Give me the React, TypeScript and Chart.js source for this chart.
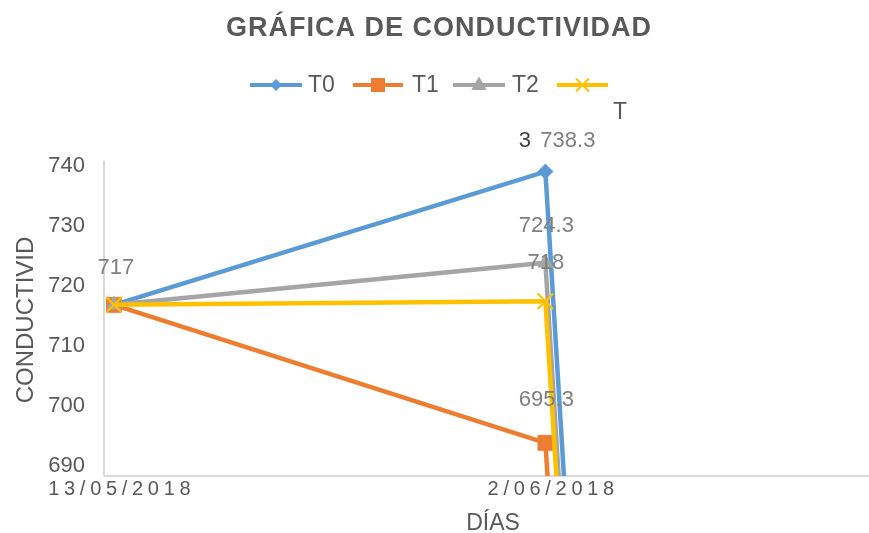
import React, { useEffect, useRef } from "react";
import { Chart, registerables } from "chart.js";

Chart.register(...registerables);

// ---- data ----
const days = [0, 20, 32.5];
const xTickDays = [0, 20];
const xTickLabels = ["13/05/2018", "2/06/2018"];
const yTicks = [690, 700, 710, 720, 730, 740];
const seriesNames = ["T0", "T1", "T2", "T"];
const t0Values = [716.2, 738.4, 0];
const t1Values = [716.2, 693.2, 0];
const t2Values = [716.2, 723.2, 0];
const t3Values = [716.2, 716.8, 0];
const t0Labels = ["", "738.3", ""];
const t1Labels = ["", "695.3", ""];
const t2Labels = ["717", "724.3", ""];
const t3Labels = ["", "718", ""];
const strayLabel = "3";
const titleText = "GRÁFICA DE CONDUCTIVIDAD";
const xTitleText = "DÍAS";
const yTitleText = "CONDUCTIVID";

// ---- styles ----
const FONT = '"Liberation Sans", Arial, sans-serif';
const TEXT = "#595959";
const LABEL = "#7f7f7f";
const AXIS = "#d9d9d9";
const colors = ["#5B9BD5", "#ED7D31", "#A5A5A5", "#FFC000"];
const pointStyles = ["rectRot", "rect", "triangle", "crossRot"];
const pointRadii = [7.5, 10.5, 8.5, 11];
const labelOffsets: Record<string, { dx: number; dy: number }> = {
  "2-0": { dx: 2, dy: -31 },
  "0-1": { dx: 22.5, dy: -24.7 },
  "1-1": { dx: 1, dy: -36.5 },
  "2-1": { dx: 1, dy: -31 },
  "3-1": { dx: 0.5, dy: -32 },
};

function drawMarker(ctx: CanvasRenderingContext2D, style: string, x: number, y: number, r: number, color: string) {
  ctx.save();
  ctx.fillStyle = color;
  ctx.strokeStyle = color;
  ctx.beginPath();
  if (style === "rectRot") {
    ctx.moveTo(x - r, y);
    ctx.lineTo(x, y - r);
    ctx.lineTo(x + r, y);
    ctx.lineTo(x, y + r);
    ctx.closePath();
    ctx.fill();
  } else if (style === "rect") {
    ctx.rect(x - r, y - r, 2 * r, 2 * r);
    ctx.fill();
  } else if (style === "triangle") {
    ctx.moveTo(x, y - r);
    ctx.lineTo(x + r * 0.9, y + r * 0.6);
    ctx.lineTo(x - r * 0.9, y + r * 0.6);
    ctx.closePath();
    ctx.fill();
  } else {
    ctx.lineWidth = 2;
    ctx.moveTo(x - r, y - r);
    ctx.lineTo(x + r, y + r);
    ctx.moveTo(x + r, y - r);
    ctx.lineTo(x - r, y + r);
    ctx.stroke();
  }
  ctx.restore();
}

const decorPlugin = {
  id: "decor",
  beforeDatasetsDraw(chart: any) {
    const { ctx, chartArea } = chart;
    ctx.save();
    ctx.strokeStyle = AXIS;
    ctx.lineWidth = 2;
    ctx.beginPath();
    ctx.moveTo(chartArea.left, chartArea.top);
    ctx.lineTo(chartArea.left, chartArea.bottom);
    ctx.moveTo(chartArea.left, chartArea.bottom);
    ctx.lineTo(chartArea.right, chartArea.bottom);
    ctx.stroke();
    ctx.restore();
  },
  afterDraw(chart: any) {
    const { ctx } = chart;
    const xs = chart.scales.x;
    const ys = chart.scales.y;
    ctx.save();
    // title
    ctx.fillStyle = TEXT;
    ctx.font = `bold 27px ${FONT}`;
    (ctx as any).letterSpacing = "1px";
    ctx.textAlign = "center";
    ctx.textBaseline = "alphabetic";
    ctx.fillText(titleText, 439, 36);
    (ctx as any).letterSpacing = "0px";

    // legend
    const legendItems = [
      { line: [250, 302], text: 308, ty: 92 },
      { line: [353, 403], text: 412, ty: 92 },
      { line: [453, 505], text: 512, ty: 92 },
      { line: [557, 608], text: 613, ty: 119 },
    ];
    const legendR = [6, 7, 8.5, 6.5];
    legendItems.forEach((it, i) => {
      ctx.strokeStyle = colors[i];
      ctx.lineWidth = 4;
      ctx.beginPath();
      ctx.moveTo(it.line[0], 85);
      ctx.lineTo(it.line[1], 85);
      ctx.stroke();
      drawMarker(ctx, pointStyles[i], (it.line[0] + it.line[1]) / 2, 85, legendR[i], colors[i]);
      ctx.fillStyle = TEXT;
      ctx.font = `23px ${FONT}`;
      ctx.textAlign = "left";
      ctx.fillText(seriesNames[i], it.text, it.ty);
    });

    // y ticks
    ctx.fillStyle = TEXT;
    ctx.font = `22px ${FONT}`;
    ctx.textAlign = "right";
    yTicks.forEach((v) => {
      ctx.fillText(String(v), 85, ys.getPixelForValue(v) + 9.5);
    });

    // x ticks
    ctx.font = `20px ${FONT}`;
    const ls = 4.7;
    (ctx as any).letterSpacing = `${ls}px`;
    ctx.textAlign = "left";
    xTickDays.forEach((d, i) => {
      const w = ctx.measureText(xTickLabels[i]).width - ls;
      ctx.fillText(xTickLabels[i], xs.getPixelForValue(d) + 5.5 - w / 2, 495);
    });
    (ctx as any).letterSpacing = "0px";

    // axis titles
    ctx.font = `23px ${FONT}`;
    ctx.textAlign = "center";
    ctx.fillText(xTitleText, 493, 530);
    ctx.save();
    ctx.font = `24px ${FONT}`;
    ctx.translate(33, 320);
    ctx.rotate(-Math.PI / 2);
    ctx.fillText(yTitleText, 0, 0);
    ctx.restore();

    // data labels
    const allLabels = [t0Labels, t1Labels, t2Labels, t3Labels];
    ctx.font = `22px ${FONT}`;
    ctx.textAlign = "center";
    allLabels.forEach((labels, si) => {
      const meta = chart.getDatasetMeta(si);
      labels.forEach((txt, pi) => {
        if (!txt) return;
        const pt = meta.data[pi];
        const off = labelOffsets[`${si}-${pi}`] || { dx: 0, dy: -31 };
        ctx.fillStyle = LABEL;
        ctx.fillText(txt, pt.x + off.dx, pt.y + off.dy);
      });
    });
    const p = chart.getDatasetMeta(0).data[1];
    ctx.fillStyle = "#404040";
    ctx.fillText(strayLabel, p.x - 20.5, p.y - 24.7);
    ctx.restore();
  },
};

export default function App() {
  const ref = useRef<HTMLCanvasElement | null>(null);
  useEffect(() => {
    document.body.style.margin = "0";
    const canvas = ref.current;
    if (!canvas) return;
    const all = [t0Values, t1Values, t2Values, t3Values];
    const chart = new Chart(canvas, {
      type: "line",
      data: {
        datasets: all.map((vals, i) => ({
          label: seriesNames[i],
          data: vals.map((v, j) => ({ x: days[j], y: v })),
          borderColor: colors[i],
          backgroundColor: colors[i],
          borderWidth: 4.5,
          pointStyle: pointStyles[i] as any,
          pointRadius: pointRadii[i],
          pointBorderWidth: i === 3 ? 2 : 1,
          pointBorderColor: colors[i],
          pointBackgroundColor: colors[i],
          tension: 0,
          clip: 0,
          order: 4 - i,
        })),
      },
      options: {
        animation: false,
        responsive: false,
        devicePixelRatio: 1,
        layout: { autoPadding: false, padding: { left: 104, right: 0, top: 161, bottom: 57 } },
        plugins: { legend: { display: false }, title: { display: false }, tooltip: { enabled: false } },
        scales: {
          x: { type: "linear", display: false, min: -0.46, max: 35 },
          y: { type: "linear", display: false, min: 687.67, max: 740.17 },
        },
      },
      plugins: [decorPlugin],
    } as any);
    return () => chart.destroy();
  }, []);
  return (
    <div style={{ width: 869, height: 533 }}>
      <canvas ref={ref} width={869} height={533} style={{ display: "block" }} />
    </div>
  );
}
